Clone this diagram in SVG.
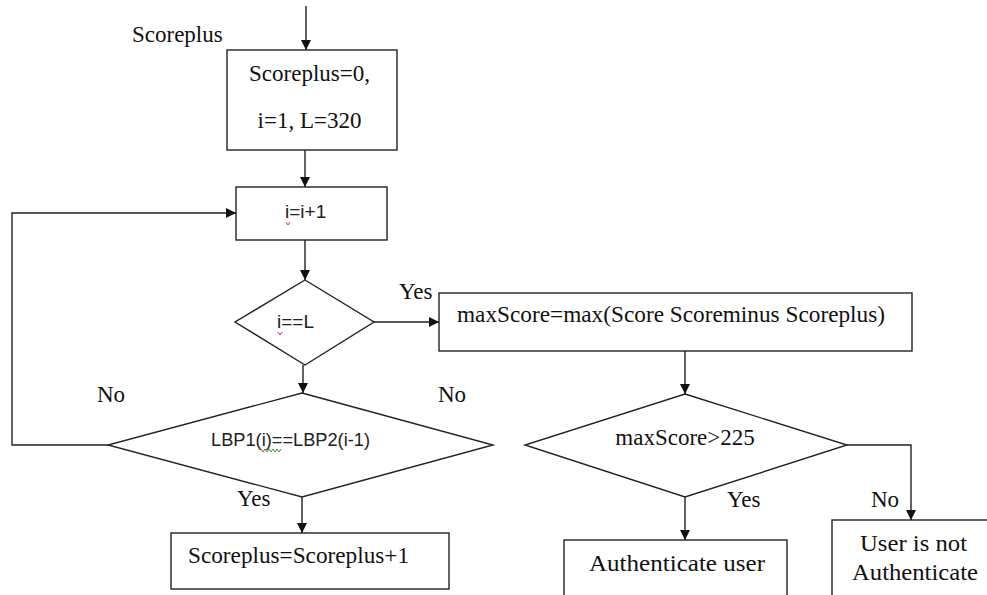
<svg xmlns="http://www.w3.org/2000/svg" width="987" height="595" viewBox="0 0 987 595">
<defs>
<marker id="ah" viewBox="0 0 10 10" refX="10" refY="5" markerWidth="10" markerHeight="10" markerUnits="userSpaceOnUse" orient="auto">
<path d="M0,0 L10,5 L0,10 z" fill="#111"/>
</marker>
<style>
.box{fill:#fff;stroke:#222;stroke-width:1.4}
.ln{fill:none;stroke:#222;stroke-width:1.4}
.ser{font-size:23px;fill:#111}
.san{font-size:19px;fill:#222}
.sq{fill:none;stroke-width:1}
</style>
</defs>
<rect width="987" height="595" fill="#fff"/>
<g id="connectors">
<line class="ln" x1="306" y1="6" x2="306" y2="50" marker-end="url(#ah)"/>
<line class="ln" x1="305" y1="150" x2="305" y2="187" marker-end="url(#ah)"/>
<polyline class="ln" points="108,445 12,445 12,213 236,213" marker-end="url(#ah)"/>
<line class="ln" x1="305" y1="240" x2="305" y2="280" marker-end="url(#ah)"/>
<line class="ln" x1="374" y1="322" x2="439" y2="322" marker-end="url(#ah)"/>
<line class="ln" x1="303" y1="365" x2="303" y2="393" marker-end="url(#ah)"/>
<line class="ln" x1="302" y1="497" x2="302" y2="533" marker-end="url(#ah)"/>
<line class="ln" x1="685" y1="351" x2="685" y2="394" marker-end="url(#ah)"/>
<line class="ln" x1="685" y1="497" x2="685" y2="540" marker-end="url(#ah)"/>
<polyline class="ln" points="847,445 911,445 911,520" marker-end="url(#ah)"/>
</g>
<g id="labels" font-family="'Liberation Serif', 'DejaVu Serif', serif">
<text class="ser" x="132" y="42">Scoreplus</text>
<text class="ser" x="399" y="299">Yes</text>
<text class="ser" x="97" y="402">No</text>
<text class="ser" x="438" y="402">No</text>
<text class="ser" x="237" y="506">Yes</text>
<text class="ser" x="727" y="507">Yes</text>
<text class="ser" x="871" y="507">No</text>
</g>
<g id="init" font-family="'Liberation Serif', 'DejaVu Serif', serif">
<rect class="box" x="227" y="50" width="170" height="100"/>
<text class="ser" x="309.5" y="81" text-anchor="middle">Scoreplus=0,</text>
<text class="ser" x="309.5" y="128" text-anchor="middle">i=1, L=320</text>
</g>
<g id="incr" font-family="'Liberation Sans', Arial, sans-serif">
<rect class="box" x="236" y="187" width="151" height="53"/>
<text class="san" x="285" y="218">i=i+1</text>
<polyline class="sq" stroke="#e03030" points="286,222 288,225 290,222"/>
</g>
<g id="checkL" font-family="'Liberation Sans', Arial, sans-serif">
<polygon class="box" points="305,280 374,322 305,365 235,322"/>
<text class="san" x="277" y="328">i==L</text>
<polyline class="sq" stroke="#e03030" points="278,332 280,335 282,332"/>
</g>
<g id="maxscore" font-family="'Liberation Serif', 'DejaVu Serif', serif">
<rect class="box" x="439" y="293" width="473" height="58"/>
<text class="ser" x="457" y="322" textLength="428" lengthAdjust="spacingAndGlyphs">maxScore=max(Score Scoreminus Scoreplus)</text>
</g>
<g id="lbp" font-family="'Liberation Sans', Arial, sans-serif">
<polygon class="box" points="302,393 493,445 302,497 108,445"/>
<text class="san" x="211" y="446" textLength="159" lengthAdjust="spacingAndGlyphs">LBP1(i)==LBP2(i-1)</text>
<polyline class="sq" stroke="#e03030" points="261,449 263,452 265,449"/>
<polyline class="sq" stroke="#3a9a3a" points="265,449 267,452 269,449 271,452 273,449 275,452 277,449 279,452 281,449"/>
</g>
<g id="threshold" font-family="'Liberation Serif', 'DejaVu Serif', serif">
<polygon class="box" points="685,394 847,445 685,497 525,445"/>
<text class="ser" x="685" y="445" text-anchor="middle">maxScore&gt;225</text>
</g>
<g id="scoreplus" font-family="'Liberation Serif', 'DejaVu Serif', serif">
<rect class="box" x="171" y="533" width="278" height="56"/>
<text class="ser" x="188" y="563" textLength="221" lengthAdjust="spacingAndGlyphs">Scoreplus=Scoreplus+1</text>
</g>
<g id="auth" font-family="'Liberation Serif', 'DejaVu Serif', serif">
<rect class="box" x="564" y="540" width="223" height="70"/>
<text class="ser" x="589" y="571" font-size="25.5" textLength="176" lengthAdjust="spacingAndGlyphs">Authenticate user</text>
</g>
<g id="notauth" font-family="'Liberation Serif', 'DejaVu Serif', serif">
<rect class="box" x="832" y="520" width="170" height="90"/>
<text class="ser" x="860" y="551" font-size="25.5" textLength="107" lengthAdjust="spacingAndGlyphs">User is not</text>
<text class="ser" x="852" y="580" font-size="25.5" textLength="126" lengthAdjust="spacingAndGlyphs">Authenticate</text>
</g>
</svg>
